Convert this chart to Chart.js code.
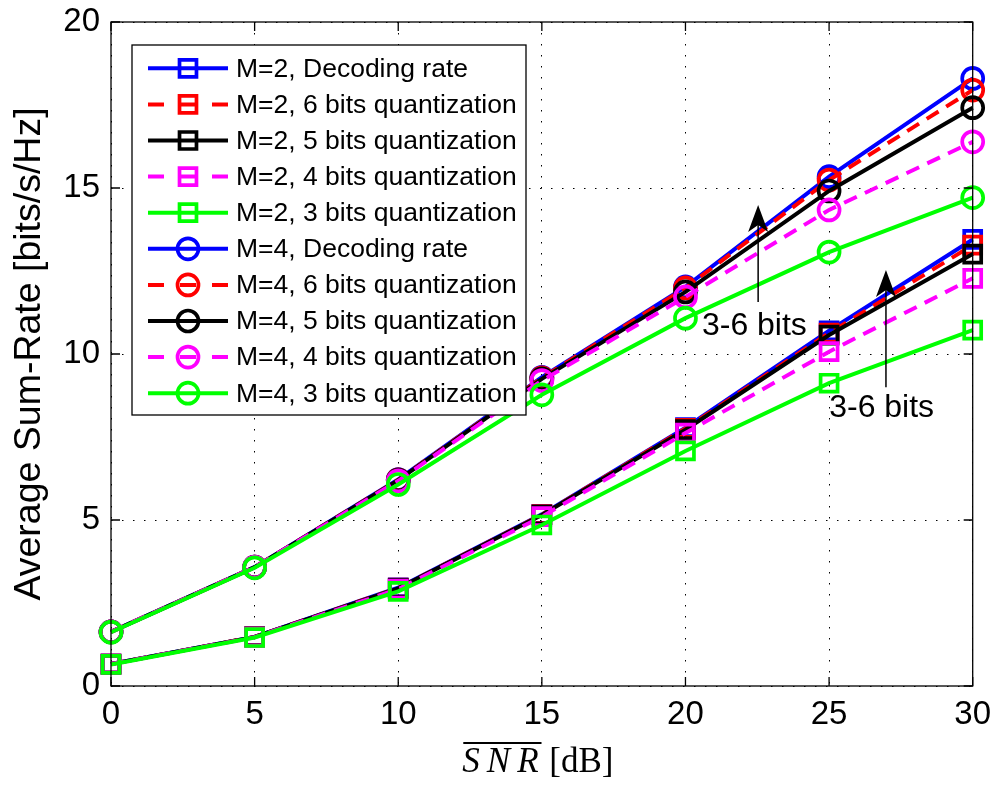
<!DOCTYPE html>
<html><head><meta charset="utf-8">
<script src="https://cdn.jsdelivr.net/npm/chart.js@4.4.0/dist/chart.umd.min.js"></script>
<style>html,body{margin:0;padding:0;background:#fff;}canvas{display:block;}</style>
</head><body>
<canvas id="c" width="997" height="786"></canvas>
<script>
// ---- data ----
const snr = [0, 5, 10, 15, 20, 25, 30];
const xTicks = [0, 5, 10, 15, 20, 25, 30];
const yTicks = [0, 5, 10, 15, 20];
const m2Decoding = [0.66, 1.48, 2.96, 5.17, 7.78, 10.70, 13.45];
const m2Bits6    = [0.66, 1.48, 2.95, 5.16, 7.76, 10.63, 13.28];
const m2Bits5    = [0.66, 1.48, 2.94, 5.15, 7.72, 10.57, 13.01];
const m2Bits4    = [0.66, 1.47, 2.92, 5.10, 7.62, 10.07, 12.28];
const m2Bits3    = [0.65, 1.46, 2.85, 4.85, 7.08, 9.12, 10.72];
const m4Decoding = [1.63, 3.58, 6.22, 9.30, 12.02, 15.34, 18.30];
const m4Bits6    = [1.63, 3.58, 6.21, 9.28, 11.99, 15.24, 17.95];
const m4Bits5    = [1.63, 3.58, 6.20, 9.25, 11.87, 14.91, 17.42];
const m4Bits4    = [1.63, 3.58, 6.18, 9.20, 11.72, 14.34, 16.39];
const m4Bits3    = [1.62, 3.56, 6.07, 8.77, 11.08, 13.07, 14.71];
const seriesLabels = [
  'M=2, Decoding rate', 'M=2, 6 bits quantization', 'M=2, 5 bits quantization',
  'M=2, 4 bits quantization', 'M=2, 3 bits quantization',
  'M=4, Decoding rate', 'M=4, 6 bits quantization', 'M=4, 5 bits quantization',
  'M=4, 4 bits quantization', 'M=4, 3 bits quantization'
];
const seriesValues = [m2Decoding, m2Bits6, m2Bits5, m2Bits4, m2Bits3,
                      m4Decoding, m4Bits6, m4Bits5, m4Bits4, m4Bits3];
// annotation arrows (data units)
const arrowX     = [22.53, 26.98];
const arrowFromY = [11.57, 9.00];
const arrowToY   = [14.49, 12.53];
const noteX      = [22.40, 26.83];
const noteY      = [10.57, 8.11];
const noteText   = ['3-6 bits', '3-6 bits'];

// ---- styles ----
const colors = ['#0000ff', '#ff0000', '#000000', '#ff00ff', '#00ff00'];
const dashed = [false, true, false, true, false];
const SANS = '"Liberation Sans", Arial, Helvetica, sans-serif';
const SERIF = '"Liberation Serif", "Times New Roman", serif';

const datasets = seriesValues.map((vals, i) => {
  const k = i % 5;
  const isCircle = i >= 5;
  return {
    label: seriesLabels[i],
    data: snr.map((s, j) => ({x: s, y: vals[j]})),
    borderColor: colors[k],
    backgroundColor: 'rgba(0,0,0,0)',
    borderWidth: 4,
    borderDash: dashed[k] ? [14, 9] : [],
    pointStyle: isCircle ? 'circle' : 'rect',
    pointRadius: isCircle ? 10.5 : 12,
    pointBorderWidth: 3.7,
    pointBorderColor: colors[k],
    pointBackgroundColor: 'rgba(0,0,0,0)',
    pointHoverRadius: isCircle ? 10.5 : 12,
    tension: 0,
    fill: false,
    clip: false,
    order: 100 - i
  };
});

function drawMarker(ctx, style, r, x, y) {
  ctx.beginPath();
  if (style === 'circle') {
    ctx.arc(x, y, r, 0, Math.PI * 2);
  } else {
    const s = r * Math.SQRT1_2;
    ctx.rect(x - s, y - s, 2 * s, 2 * s);
  }
  ctx.stroke();
}

const matlabPlugin = {
  id: 'matlab',
  afterDatasetsDraw(chart) {
    const {ctx, chartArea: a, scales: {x, y}} = chart;
    ctx.save();
    ctx.setLineDash([]);
    // axes box
    ctx.strokeStyle = '#000';
    ctx.lineWidth = 1.3;
    ctx.strokeRect(a.left, a.top, a.right - a.left, a.bottom - a.top);
    // inner ticks on all sides
    const tl = 9;
    ctx.beginPath();
    xTicks.forEach(v => {
      const px = x.getPixelForValue(v);
      ctx.moveTo(px, a.bottom); ctx.lineTo(px, a.bottom - tl);
      ctx.moveTo(px, a.top); ctx.lineTo(px, a.top + tl);
    });
    yTicks.forEach(v => {
      const py = y.getPixelForValue(v);
      ctx.moveTo(a.left, py); ctx.lineTo(a.left + tl, py);
      ctx.moveTo(a.right, py); ctx.lineTo(a.right - tl, py);
    });
    ctx.stroke();

    // arrows + notes
    ctx.fillStyle = '#000';
    ctx.strokeStyle = '#000';
    ctx.lineWidth = 1.5;
    arrowX.forEach((ax, i) => {
      const px = x.getPixelForValue(ax);
      const y0 = y.getPixelForValue(arrowFromY[i]);
      const y1 = y.getPixelForValue(arrowToY[i]);
      ctx.beginPath();
      ctx.moveTo(px, y0); ctx.lineTo(px, y1 + 10);
      ctx.stroke();
      ctx.beginPath();
      ctx.moveTo(px, y1);
      ctx.lineTo(px - 10, y1 + 27);
      ctx.lineTo(px, y1 + 20);
      ctx.lineTo(px + 10, y1 + 27);
      ctx.closePath();
      ctx.fill();
      ctx.font = '32px ' + SANS;
      ctx.textAlign = 'center';
      ctx.textBaseline = 'alphabetic';
      ctx.fillText(noteText[i], x.getPixelForValue(noteX[i]), y.getPixelForValue(noteY[i]));
    });

    // legend
    const lx = a.left + 21, ly = a.top + 23, lw = 394, lh = 370;
    ctx.fillStyle = '#fff';
    ctx.fillRect(lx, ly, lw, lh);
    ctx.strokeStyle = '#000';
    ctx.lineWidth = 1.3;
    ctx.strokeRect(lx, ly, lw, lh);
    ctx.font = '26.5px ' + SANS;
    ctx.textAlign = 'left';
    ctx.textBaseline = 'middle';
    chart.data.datasets.forEach((ds, i) => {
      const yy = ly + 23.3 + i * 36.1;
      ctx.strokeStyle = ds.borderColor;
      ctx.lineWidth = ds.borderWidth;
      ctx.setLineDash(ds.borderDash.length ? [16, 16] : []);
      ctx.beginPath();
      ctx.moveTo(lx + 16, yy); ctx.lineTo(lx + 96, yy);
      ctx.stroke();
      ctx.setLineDash([]);
      ctx.lineWidth = ds.pointBorderWidth;
      drawMarker(ctx, ds.pointStyle, ds.pointRadius, lx + 56, yy);
      ctx.fillStyle = '#000';
      ctx.fillText(ds.label, lx + 104, yy + 1);
    });

    // x-axis title: overline SNR (italic) [dB]
    const base = a.bottom + 86;
    const cx = (a.left + a.right) / 2 - 5;
    ctx.fillStyle = '#000';
    ctx.textBaseline = 'alphabetic';
    ctx.textAlign = 'left';
    ctx.font = 'italic 35px ' + SERIF;
    const letters = ['S', 'N', 'R'];
    const gap = 7;
    const lwid = letters.map(c => ctx.measureText(c).width);
    const w1 = lwid.reduce((s, v) => s + v, 0) + gap * 2;
    ctx.font = '35px ' + SERIF;
    const rest = ' [dB]';
    const w2 = ctx.measureText(rest).width;
    let sx = cx - (w1 + w2) / 2;
    const startX = sx;
    ctx.font = 'italic 35px ' + SERIF;
    letters.forEach((c, i) => { ctx.fillText(c, sx, base); sx += lwid[i] + gap; });
    sx -= gap;
    ctx.fillRect(startX + 1, base - 30, sx - startX + 2, 2);
    ctx.font = '35px ' + SERIF;
    ctx.fillText(rest, sx + 2, base);
    ctx.restore();
  }
};

new Chart(document.getElementById('c'), {
  type: 'line',
  data: {datasets},
  options: {
    responsive: false,
    devicePixelRatio: 1,
    animation: false,
    events: [],
    layout: {padding: {left: 0, right: 24.3, top: 22, bottom: 0}},
    plugins: {legend: {display: false}, tooltip: {enabled: false}, title: {display: false}},
    scales: {
      x: {
        type: 'linear', min: 0, max: 30,
        afterFit: s => { s.height = 100; s.paddingLeft = 0; s.paddingRight = 0; },
        afterBuildTicks: s => { s.ticks = xTicks.map(v => ({value: v})); },
        ticks: {color: '#000', font: {family: SANS, size: 33}, padding: 9, maxRotation: 0},
        grid: {color: '#000', lineWidth: 1, drawTicks: false},
        border: {display: false, dash: [1.5, 9.5]}
      },
      y: {
        type: 'linear', min: 0, max: 20,
        afterFit: s => { s.width = 111; s.paddingTop = 0; s.paddingBottom = 0; },
        afterBuildTicks: s => { s.ticks = yTicks.map(v => ({value: v})); },
        ticks: {color: '#000', font: {family: SANS, size: 33}, padding: 11},
        grid: {color: '#000', lineWidth: 1, drawTicks: false},
        border: {display: false, dash: [1.5, 9.5]},
        title: {display: true, text: 'Average Sum-Rate [bits/s/Hz]', color: '#000',
                font: {family: SANS, size: 37.5}, padding: {top: 7, bottom: 0}}
      }
    }
  },
  plugins: [matlabPlugin]
});
</script>
</body></html>
